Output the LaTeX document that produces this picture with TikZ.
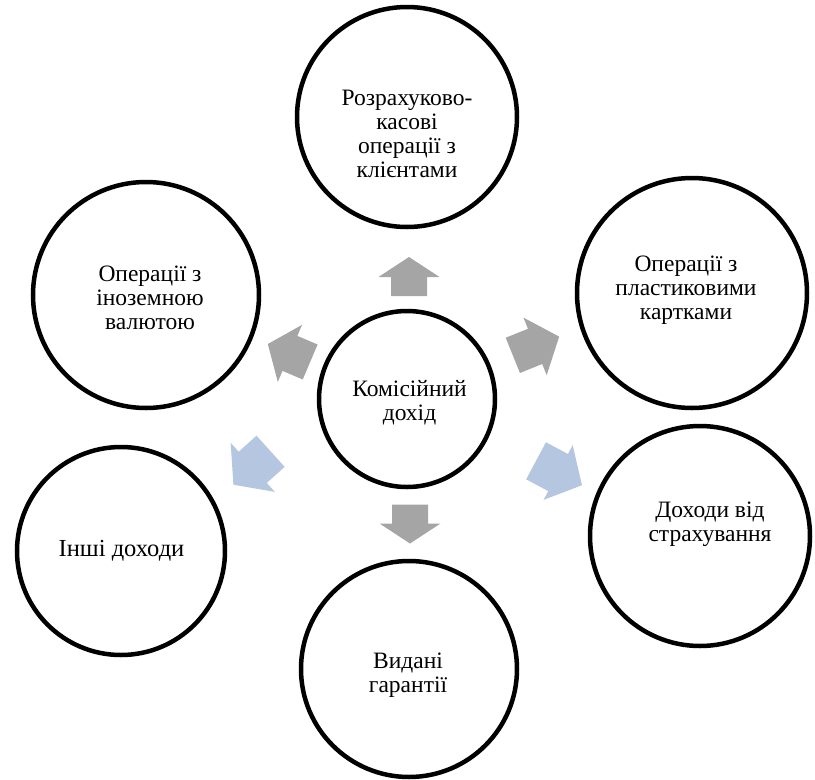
\documentclass[tikz,border=0pt]{standalone}
\usepackage{fontspec}
\setmainfont{Liberation Serif}
\definecolor{arrgray}{HTML}{A5A5A5}
\definecolor{arrblue}{HTML}{B4C6E0}
\begin{document}
\begin{tikzpicture}[x=1pt,y=-1pt,
  ring/.style={circle, draw=black, line width=4.5pt, inner sep=0pt, fill=white},
  txt/.style={align=center, font=\fontsize{23.5}{24}\selectfont, inner sep=0pt},
  pics/barr/.style n args={4}{code={
    \fill (-#1/2,-#4) -- (#1/2-#2,-#4) -- (#1/2-#2,-#3) -- (#1/2,0)
      -- (#1/2-#2,#3) -- (#1/2-#2,#4) -- (-#1/2,#4) -- cycle;}}
]
\useasboundingbox (0,0) rectangle (815,780);
% circles
\node[ring, minimum size=176] (center) at (407,399) {};
\node[ring, minimum size=220] (top) at (407,117) {};
\node[ring, minimum size=226] (ul) at (146,295) {};
\node[ring, minimum size=230] (ur) at (692,293) {};
\node[ring, minimum size=220] (lr) at (700,536) {};
\node[ring, minimum size=208] (ll) at (121,551) {};
\node[ring, minimum size=216] (bot) at (409,669) {};
% texts
\node[txt] (tcenter) at (409.5,403) {Комісійний\\дохід};
\node[txt] (ttop) at (407,134) {Розрахуково-\\касові\\операції з\\клієнтами};
\node[txt] (tul) at (150,298) {Операції з\\іноземною\\валютою};
\node[txt] (tur) at (686,290) {Операції з\\пластиковими\\картками};
\node[txt] (tlr) at (710,524) {Доходи від\\страхування};
\node[txt, font=\fontsize{24.5}{25}\selectfont] (tll) at (121.5,551) {Інші доходи};
\node[txt] (tbot) at (408,675) {Видані\\гарантії};
% arrows
\pic[fill=arrgray, rotate=90] (atop) at (409,276.5) {barr={39}{20}{30.5}{18}};
\pic[fill=arrgray, rotate=-90] (abot) at (410,524) {barr={39}{20}{30.5}{18}};
\pic[fill=arrgray, rotate=22] (aur) at (536,346) {barr={50}{26}{31}{19}};
\pic[fill=arrgray, rotate=157] (aul) at (289,353) {barr={46}{24}{31}{19}};
\pic[fill=arrblue, rotate=222] (all) at (252,468) {barr={50}{26}{33}{21}};
\pic[fill=arrblue, rotate=-28] (alr) at (559,473) {barr={52}{27}{31}{21}};
\end{tikzpicture}
\end{document}
